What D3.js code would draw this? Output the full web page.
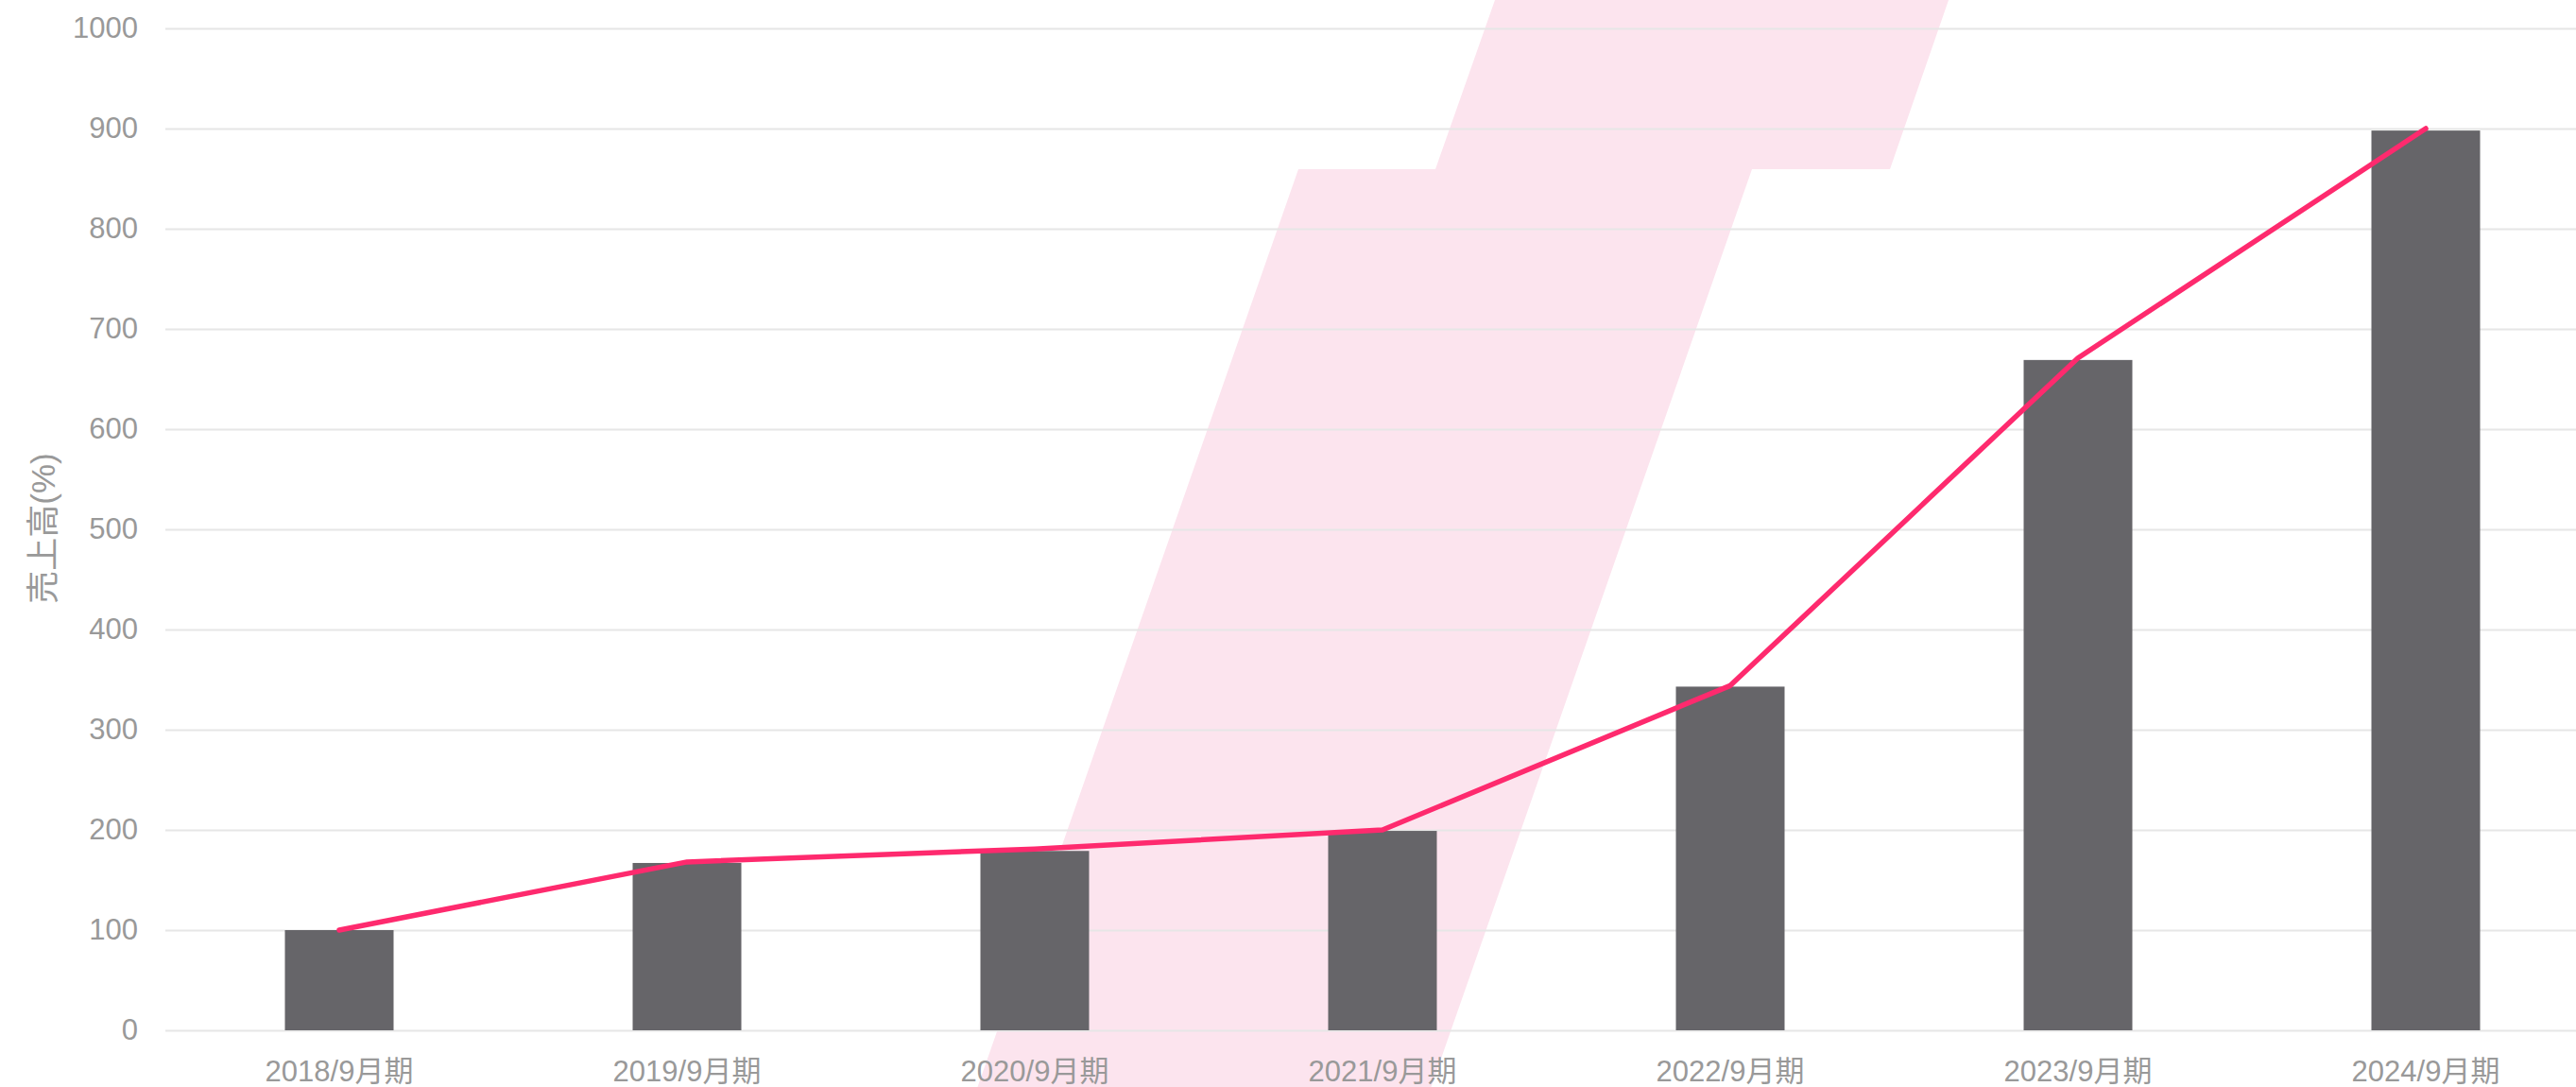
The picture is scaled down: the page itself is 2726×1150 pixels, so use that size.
<!DOCTYPE html>
<html>
<head>
<meta charset="utf-8">
<script src="https://cdn.jsdelivr.net/npm/d3@7"></script>
<style>
  body { margin: 0; background: #fff; }
  text { font-family: "Liberation Sans", Arial, "Noto Sans CJK JP", sans-serif; }
</style>
</head>
<body>
<svg id="mainSvg"></svg>
<script>
const periods = ['2018/9月期', '2019/9月期', '2020/9月期', '2021/9月期', '2022/9月期', '2023/9月期', '2024/9月期'];
const barValues = [100, 167, 179, 199, 343, 669, 898];
const lineValues = [100, 168, 181, 200, 344, 671, 900];
const yTicks = [0, 100, 200, 300, 400, 500, 600, 700, 800, 900, 1000];
const yTitle = '売上高(%)';

const width = 2726;
const height = 1150;
const plotLeft = 175;
const plotRight = 2751;   // plot runs past the right edge, like the original crop
const plotTop = 30;
const plotBottom = 1090;

const svg = d3.select('#mainSvg')
  .attr('width', width)
  .attr('height', height);

// pink background decoration (logo shape), pixels
const logoShape = [[1374, 179], [1519, 179], [1582, 0], [1582, -20], [2069, -20], [2000, 179], [1854, 179], [1511, 1160], [1031, 1160]];
svg.append('polygon')
  .attr('points', logoShape.map(p => p.join(',')).join(' '))
  .attr('fill', '#fce4ee');

const xScale = d3.scaleBand()
  .domain(periods)
  .range([plotLeft, plotRight])
  .paddingInner(0.6875)
  .paddingOuter(0.34375);

const yScale = d3.scaleLinear()
  .domain([0, 1000])
  .range([plotBottom, plotTop]);

// y axis + gridlines
const yAxis = svg.append('g')
  .attr('transform', `translate(${plotLeft},0)`)
  .call(d3.axisLeft(yScale)
    .tickValues(yTicks)
    .tickFormat(d3.format('d'))
    .tickSize(-(plotRight - plotLeft))
    .tickPadding(29));
yAxis.select('.domain').remove();
yAxis.selectAll('line')
  .attr('stroke', '#e6e6e6')
  .attr('stroke-width', 2);
yAxis.selectAll('text')
  .attr('fill', '#999')
  .style('font-size', '31px');

svg.append('text')
  .attr('transform', `translate(46,559) rotate(-90)`)
  .attr('dy', '0.35em')
  .style('text-anchor', 'middle')
  .style('font-size', '35px')
  .attr('fill', '#999')
  .text(yTitle);

// bars
svg.append('g')
  .selectAll('rect')
  .data(barValues)
  .enter()
  .append('rect')
  .attr('x', (d, i) => xScale(periods[i]))
  .attr('width', xScale.bandwidth())
  .attr('y', d => yScale(d))
  .attr('height', d => plotBottom - yScale(d))
  .attr('fill', '#666569');

// line
const line = d3.line()
  .x((d, i) => xScale(periods[i]) + xScale.bandwidth() / 2)
  .y(d => yScale(d));

svg.append('path')
  .datum(lineValues)
  .attr('d', line)
  .attr('fill', 'none')
  .attr('stroke', '#fe2a6e')
  .attr('stroke-width', 5.5)
  .attr('stroke-linecap', 'round')
  .attr('stroke-linejoin', 'round');

// x axis labels
const xAxis = svg.append('g')
  .attr('transform', `translate(0,${plotBottom})`)
  .call(d3.axisBottom(xScale).tickSize(0).tickPadding(32));
xAxis.select('.domain').remove();
xAxis.selectAll('text')
  .attr('fill', '#999')
  .style('font-size', '31px');
</script>
</body>
</html>
